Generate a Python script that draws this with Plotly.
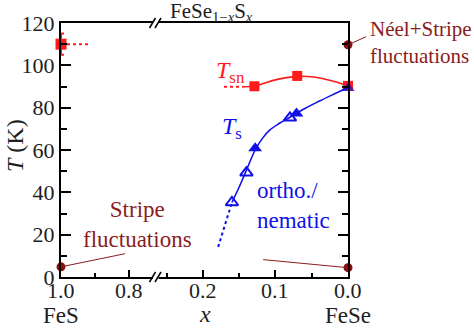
import plotly.graph_objects as go

# ---------------- data ----------------
# FeS side (left segment)
fes_tsn_x = [1.0]
fes_tsn_T = [110.0]
fes_tsn_err = [5.0]
fes_dot_x = [1.0, 0.913]
fes_dot_T = [110.0, 110.0]
fes_fluct_x = [1.0]
fes_fluct_T = [4.8]

# FeSe side (right segment)
tsn_x = [0.129, 0.070, 0.0]
tsn_T = [90.1, 95.0, 90.3]
tsn_err = [1.5, 1.5, 1.5]
tsn_fit_x = [0.145, 0.129, 0.115, 0.103, 0.085, 0.070, 0.050, 0.034, 0.015, 0.0]
tsn_fit_T = [89.9, 90.1, 91.6, 92.9, 94.2, 94.8, 94.6, 93.7, 92.0, 90.1]
tsn_dot_x = [0.171, 0.145]
tsn_dot_T = [89.9, 89.9]

ts_filled_x = [0.128, 0.071, 0.0]
ts_filled_T = [60.8, 77.3, 89.3]
ts_filled_opacity = [1.0, 1.0, 0.65]
ts_open_x = [0.160, 0.140, 0.080]
ts_open_T = [35.2, 49.3, 75.2]
ts_fit_x = [0.160, 0.150, 0.140, 0.128, 0.118, 0.108, 0.095, 0.080, 0.060, 0.040, 0.020, 0.0]
ts_fit_T = [35.2, 42.5, 50.5, 60.0, 65.5, 69.4, 72.5, 75.5, 79.5, 83.0, 86.3, 89.5]
ts_dot_x = [0.179, 0.160]
ts_dot_T = [14.2, 35.2]

fese_fluct_x = [0.0, 0.0]
fese_fluct_T = [4.4, 109.7]

# pointer-line far ends (x in the axis of each segment, T in K)
ptr_left_end = (0.812, 11.0)
ptr_right_end = (0.117, 8.2)

y_ticks = [0, 20, 40, 60, 80, 100, 120]
x1_ticks = [1.0, 0.8]
x1_labels = ["1.0", "0.8"]
x1_minor = [0.9]
x2_ticks = [0.2, 0.1, 0.0]
x2_labels = ["0.2", "0.1", "0.0"]
x2_minor = [0.25, 0.15, 0.05]

RED = "#ff1a1a"
BLUE = "#1010e8"
DRED = "#8b0a0a"
DTEXT = "#8b1c1c"
INK = "#1e1e1e"
FONT = "Liberation Serif"

fig = go.Figure()

# ---- left segment traces ----
fig.add_trace(go.Scatter(x=fes_dot_x, y=fes_dot_T, mode="lines", xaxis="x", yaxis="y",
                         line=dict(color=RED, width=2, dash="dot"), cliponaxis=False))
fig.add_trace(go.Scatter(x=fes_tsn_x, y=fes_tsn_T, mode="markers", xaxis="x", yaxis="y",
                         marker=dict(symbol="square", size=11, color=RED),
                         error_y=dict(type="data", array=fes_tsn_err, color=RED, thickness=2, width=3),
                         cliponaxis=False))
fig.add_trace(go.Scatter(x=fes_fluct_x, y=fes_fluct_T, mode="markers", xaxis="x", yaxis="y",
                         marker=dict(symbol="circle", size=9, color=DRED), cliponaxis=False))

# ---- right segment traces ----
fig.add_trace(go.Scatter(x=tsn_dot_x, y=tsn_dot_T, mode="lines", xaxis="x2", yaxis="y2",
                         line=dict(color=RED, width=2, dash="dot")))
fig.add_trace(go.Scatter(x=tsn_fit_x, y=tsn_fit_T, mode="lines", xaxis="x2", yaxis="y2",
                         line=dict(color=RED, width=1.6, shape="spline"), cliponaxis=False))
fig.add_trace(go.Scatter(x=tsn_x, y=tsn_T, mode="markers", xaxis="x2", yaxis="y2",
                         marker=dict(symbol="square", size=10, color=RED),
                         error_y=dict(type="data", array=tsn_err, color=RED, thickness=2, width=4),
                         cliponaxis=False))
fig.add_trace(go.Scatter(x=ts_dot_x, y=ts_dot_T, mode="lines", xaxis="x2", yaxis="y2",
                         line=dict(color=BLUE, width=2, dash="dot")))
fig.add_trace(go.Scatter(x=ts_fit_x, y=ts_fit_T, mode="lines", xaxis="x2", yaxis="y2",
                         line=dict(color=BLUE, width=1.6, shape="spline"), cliponaxis=False))
fig.add_trace(go.Scatter(x=ts_open_x, y=ts_open_T, mode="markers", xaxis="x2", yaxis="y2",
                         marker=dict(symbol="triangle-up-open", size=11, color=BLUE,
                                     line=dict(width=2, color=BLUE)), cliponaxis=False))
fig.add_trace(go.Scatter(x=ts_filled_x, y=ts_filled_T, mode="markers", xaxis="x2", yaxis="y2",
                         marker=dict(symbol="triangle-up", size=12, color=BLUE,
                                     opacity=ts_filled_opacity), cliponaxis=False))
fig.add_trace(go.Scatter(x=fese_fluct_x, y=fese_fluct_T, mode="markers", xaxis="x2", yaxis="y2",
                         marker=dict(symbol="circle", size=9, color=DRED), cliponaxis=False))

BREAK = 0.3345
axis_common = dict(showline=True, linecolor="black", linewidth=2, mirror=True,
                   ticks="inside", ticklen=7, tickwidth=1.5, tickcolor="black",
                   showgrid=False, zeroline=False, showticklabels=False)

fig.update_layout(
    width=474, height=332,
    margin=dict(l=61, r=126, t=23, b=55),
    plot_bgcolor="white", paper_bgcolor="white",
    showlegend=False,
    xaxis=dict(domain=[0, BREAK], range=[1.0, 0.7176], anchor="y",
               tickmode="array", tickvals=x1_ticks,
               minor=dict(tickmode="array", tickvals=x1_minor, ticks="inside", ticklen=4,
                          tickcolor="black", tickwidth=1.5),
               **axis_common),
    xaxis2=dict(domain=[BREAK, 1], range=[0.2633, 0.0], anchor="y2",
                tickmode="array", tickvals=x2_ticks,
                minor=dict(tickmode="array", tickvals=x2_minor, ticks="inside", ticklen=4,
                           tickcolor="black", tickwidth=1.5),
                **axis_common),
    yaxis=dict(domain=[0, 1], range=[0, 120], anchor="x", side="left",
               showline=True, linecolor="black", linewidth=2, mirror=False,
               ticks="inside", ticklen=10, tickwidth=1.5, tickcolor="black",
               tickmode="array", tickvals=y_ticks,
               minor=dict(dtick=10, tick0=0, ticks="inside", ticklen=6, tickcolor="black", tickwidth=1.5),
               showgrid=False, zeroline=False,
               tickfont=dict(family=FONT, size=22, color=INK)),
    yaxis2=dict(domain=[0, 1], range=[0, 120], anchor="x2", side="right", matches="y",
                showline=True, linecolor="black", linewidth=2, mirror=False,
                ticks="inside", ticklen=10, tickwidth=1.5, tickcolor="black",
                tickmode="array", tickvals=y_ticks, showticklabels=False,
                minor=dict(dtick=10, tick0=0, ticks="inside", ticklen=6, tickcolor="black", tickwidth=1.5),
                showgrid=False, zeroline=False),
)

# ---- axis break marks (white gap + two slashes), top and bottom ----
def px2paper_x(p):
    return (p - 61) / 287.0

def px2paper_y(p):
    return (277 - p) / 254.0

shapes = []
for yc in (277, 23):
    shapes.append(dict(type="rect", xref="paper", yref="paper",
                       x0=px2paper_x(153), x1=px2paper_x(158.5),
                       y0=px2paper_y(yc + 2.5), y1=px2paper_y(yc - 2.5),
                       fillcolor="white", line=dict(width=0), layer="above"))
    for xc in (152.5, 158.0):
        shapes.append(dict(type="line", xref="paper", yref="paper",
                           x0=px2paper_x(xc - 3), y0=px2paper_y(yc + 5),
                           x1=px2paper_x(xc + 3), y1=px2paper_y(yc - 5),
                           line=dict(color="black", width=1.5), layer="above"))

# pointer lines from the fluctuation points to their labels
shapes.append(dict(type="line", xref="x", yref="y",
                   x0=fes_fluct_x[0], y0=fes_fluct_T[0], x1=ptr_left_end[0], y1=ptr_left_end[1],
                   line=dict(color=DTEXT, width=1)))
shapes.append(dict(type="line", xref="x2", yref="y2",
                   x0=fese_fluct_x[0], y0=fese_fluct_T[0], x1=ptr_right_end[0], y1=ptr_right_end[1],
                   line=dict(color=DTEXT, width=1)))
shapes.append(dict(type="line", xref="paper", yref="y2",
                   x0=1.0, y0=fese_fluct_T[1], x1=px2paper_x(366), y1=113.5,
                   line=dict(color=DTEXT, width=1)))
fig.update_layout(shapes=shapes)

ann = []
def txt(**kw):
    d = dict(showarrow=False, xanchor="center", yanchor="middle")
    d.update(kw)
    ann.append(d)

tf = lambda size, color: dict(family=FONT, size=size, color=color)
# x tick labels (both axis segments)
tick_y = px2paper_y(290)
for v, t in zip(x1_ticks, x1_labels):
    txt(x=v, y=tick_y, xref="x", yref="paper", text=t, font=tf(22, INK))
for v, t in zip(x2_ticks, x2_labels):
    txt(x=v, y=tick_y, xref="x2", yref="paper", text=t, font=tf(22, INK))

txt(x=0.774, y=24.7, xref="x", yref="y", text="Stripe<br>fluctuations",
    font=tf(23, DTEXT), align="center")
txt(x=px2paper_x(368), y=110.8, xref="paper", yref="y",
    text="Néel+Stripe<br>fluctuations", xanchor="left", font=tf(21, DTEXT), align="left")
txt(x=0.1615, y=96.7, xref="x2", yref="y2", text="<i>T</i><sub>sn</sub>", font=tf(24, RED))
txt(x=0.160, y=70.4, xref="x2", yref="y2", text="<i>T</i><sub>s</sub>", font=tf(24, BLUE))
txt(x=0.128, y=33.6, xref="x2", yref="y2", text="ortho./<br>nematic",
    xanchor="left", font=tf(23, BLUE), align="left")
txt(x=px2paper_x(211), y=px2paper_y(12), xref="paper", yref="paper",
    text="FeSe<sub>1−<i>x</i></sub>S<sub><i>x</i></sub>", font=tf(21, INK))
txt(x=1.0, y=px2paper_y(315), xref="x", yref="paper", text="FeS", font=tf(23, INK))
txt(x=0.0, y=px2paper_y(315), xref="x2", yref="paper", text="FeSe", font=tf(23, INK))
txt(x=0.197, y=px2paper_y(314), xref="x2", yref="paper", text="<i>x</i>", font=tf(24, INK))
txt(x=px2paper_x(15), y=px2paper_y(146), xref="paper", yref="paper", text="<i>T</i> (K)",
    textangle=-90, font=tf(24, INK))
fig.update_layout(annotations=ann)

fig.write_html("out.html")
